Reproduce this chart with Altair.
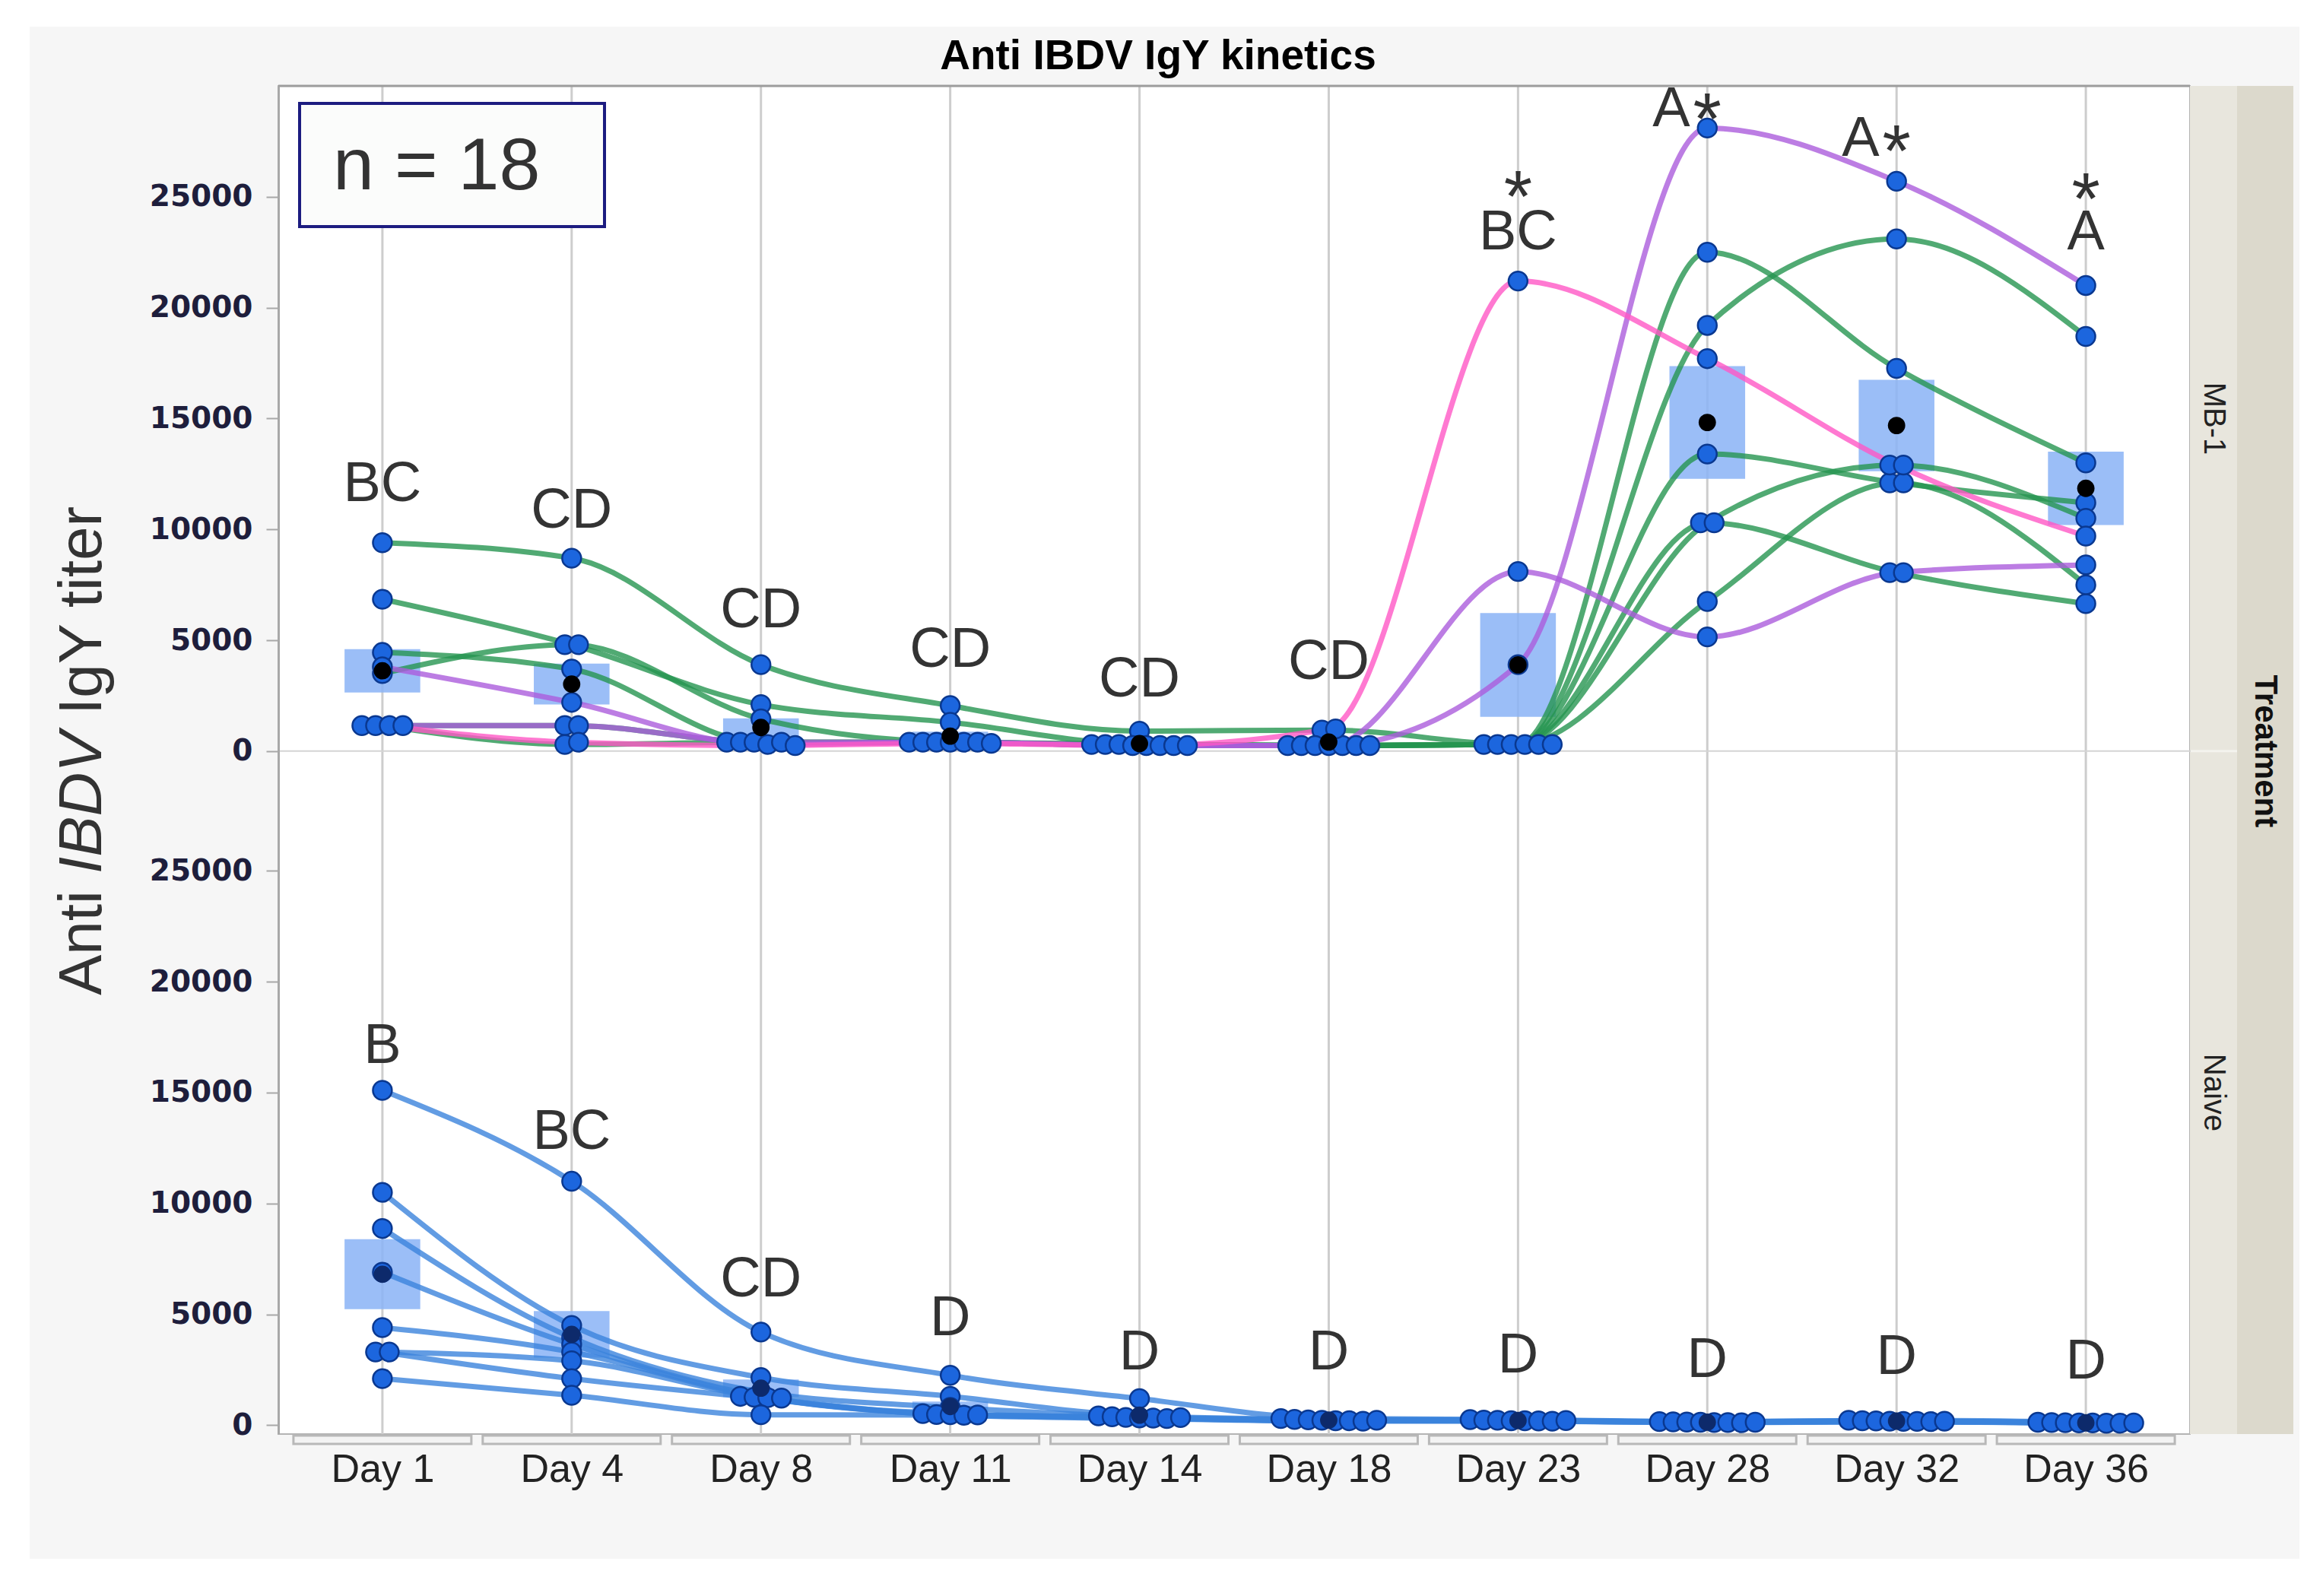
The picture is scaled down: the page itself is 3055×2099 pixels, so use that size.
import json
import altair as alt
import pandas as pd

# ---------------- data ----------------
days = ["Day 1", "Day 4", "Day 8", "Day 11", "Day 14", "Day 18", "Day 23", "Day 28", "Day 32", "Day 36"]
panels = ["MB-1", "Naive"]

# MB-1 birds (individual curves)
mb1_G1 = [9400, 8700, 3900, 2050, 900, 950, 300, 22500, 17260, 13000]
mb1_G2 = [6850, 4800, 2100, 1300, 300, 250, 300, 19200, 23100, 18700]
mb1_G3 = [3500, 4800, 1450, 400, 300, 250, 300, 13400, 12100, 11200]
mb1_G4 = [4450, 3700, 400, 400, 300, 250, 300, 10300, 12900, 10500]
mb1_G5 = [1150, 1150, 400, 400, 250, 250, 300, 10300, 8050, 6650]
mb1_G6 = [1150, 300, 400, 400, 250, 250, 300, 6750, 12100, 7500]
mb1_P1 = [3800, 2200, 300, 400, 250, 250, 3900, 28100, 25700, 21000]
mb1_P2 = [1150, 1150, 400, 400, 250, 250, 8100, 5150, 8050, 8400]
mb1_PK = [1150, 400, 250, 350, 250, 1000, 21200, 17700, 12900, 9700]
mb1_series = [mb1_G1, mb1_G2, mb1_G3, mb1_G4, mb1_G5, mb1_G6, mb1_P1, mb1_P2, mb1_PK]
mb1_kinds = ["green"] * 6 + ["purple", "purple", "pink"]

# Naive birds
nv_N1 = [15100, 11000, 4200, 2250, 1200, 300, 250, 160, 220, 130]
nv_N2 = [10500, 4500, 2150, 1300, 420, 260, 230, 150, 200, 120]
nv_N3 = [8870, 3950, 1500, 800, 380, 240, 220, 140, 190, 110]
nv_N4 = [6900, 3650, 1300, 520, 350, 220, 200, 130, 180, 100]
nv_N5 = [4400, 3300, 1260, 480, 330, 200, 200, 120, 170, 100]
nv_N6 = [3300, 2900, 1240, 470, 320, 200, 190, 120, 170, 90]
nv_N7 = [3300, 2100, 1220, 450, 300, 180, 180, 110, 160, 90]
nv_N8 = [2100, 1350, 470, 460, 340, 220, 210, 130, 180, 100]
nv_series = [nv_N1, nv_N2, nv_N3, nv_N4, nv_N5, nv_N6, nv_N7, nv_N8]

# significance letters (y in titer units of each panel)
top_letters = ["BC", "CD", "CD", "CD", "CD", "CD", "BC", "A", "A", "A"]
top_letter_y = [12037, 10837, 6344, 4561, 3224, 4012, 23388, 28944, 27606, 23388]
top_star_beside = [False, False, False, False, False, False, False, True, True, False]
star_days = ["Day 23", "Day 28", "Day 32", "Day 36"]
star_y = [23900, 27400, 25960, 23800]
bot_letters = ["B", "BC", "CD", "D", "D", "D", "D", "D", "D", "D"]
bot_letter_y = [17078, 13203, 6550, 4801, 3258, 3258, 3121, 2915, 3052, 2846]

y_ticks = [0, 5000, 10000, 15000, 20000, 25000]
title_text = "Anti IBDV IgY kinetics"
ytitle_parts = ["Anti", "IBDV", "IgY titer"]
n_text = "n = 18"
strip_title = "Treatment"

# ---------------- layout constants ----------------
W, H = 2514, 1773
OFF = 30400               # vertical offset of the MB-1 panel on the shared axis
YMIN, YMAX = -400, 60400
HT = H * (YMAX - OFF) / (YMAX - YMIN)   # height of the top panel in px
STEP = W / 10.1
XS = alt.Scale(domain=[-0.55, 9.55], nice=False, zero=False)
YS = alt.Scale(domain=[YMIN, YMAX], nice=False, zero=False)

AX_X = alt.Axis(values=list(range(len(days))),
                labelExpr=json.dumps(days).replace('"', "'") + "[datum.value]",
                title=None, grid=False, domain=False, ticks=False,
                labelFont="Liberation Sans", labelFontSize=52, labelColor="#222222",
                labelPadding=21, labelFlush=False, labelOverlap=False, zindex=1)
AX_Y = alt.Axis(values=y_ticks + [t + OFF for t in y_ticks],
                labelExpr=f"datum.value > 29000 ? format(datum.value - {OFF}, 'd') : format(datum.value, 'd')",
                title=None, grid=False, domainColor="#a8a8a8", domainWidth=3,
                tickColor="#a8a8a8", tickWidth=2, tickSize=16,
                labelFont="DejaVu Sans", labelFontWeight="bold", labelFontSize=39,
                labelColor="#1e1e3c", labelPadding=18, labelOverlap=False, zindex=1)


def jitter(vals, thresh=150, sp=18):
    order = sorted(range(len(vals)), key=lambda i: vals[i])
    clusters, cur = [], [order[0]]
    for a, b in zip(order, order[1:]):
        if vals[b] - vals[a] <= thresh:
            cur.append(b)
        else:
            clusters.append(cur)
            cur = [b]
    clusters.append(cur)
    off = [0.0] * len(vals)
    for c in clusters:
        k = len(c)
        for r, i in enumerate(sorted(c)):
            off[i] = (r - (k - 1) / 2) * sp
    return off


rows = []
for panel, series, kinds in [("MB-1", mb1_series, mb1_kinds), ("Naive", nv_series, ["blue"] * len(nv_series))]:
    poff = OFF if panel == "MB-1" else 0
    for d in range(len(days)):
        vals = [s[d] for s in series]
        jo = jitter(vals)
        for b, s in enumerate(series):
            rows.append(dict(panel=panel, bird=f"{panel}-{b}", kind=kinds[b], idx=d,
                             v=s[d], off=poff, yy=s[d] + poff, xj=d + jo[b] / STEP))
df = pd.DataFrame(rows)

ann = pd.DataFrame(
    [dict(idx=i, txt=t, yy=y + OFF, beside=bs) for i, (t, y, bs) in enumerate(zip(top_letters, top_letter_y, top_star_beside))]
    + [dict(idx=i, txt=t, yy=y, beside=False) for i, (t, y) in enumerate(zip(bot_letters, bot_letter_y))])
stars = pd.DataFrame([dict(idx=days.index(dname), yy=y + OFF) for dname, y in zip(star_days, star_y)])
grid = pd.DataFrame({"idx": list(range(len(days)))})
ONE = pd.DataFrame({"k": [0]})

X = lambda f: alt.X(f, scale=XS, axis=AX_X)
Y = lambda f: alt.Y(f, scale=YS, axis=AX_Y)

layers = []
# outer grey background and white plot area
layers.append(alt.Chart(ONE).mark_rect(color="#f6f6f6").encode(
    x=alt.value(-327), x2=alt.value(2658), y=alt.value(-78), y2=alt.value(1937)))
layers.append(alt.Chart(ONE).mark_rect(fill="white", stroke="#b4b4b4", strokeWidth=2).encode(
    x=alt.value(0), x2=alt.value(W), y=alt.value(0), y2=alt.value(H)))
# facet strips
layers.append(alt.Chart(ONE).mark_rect(color="#e8e6dd").encode(
    x=alt.value(W), x2=alt.value(W + 62), y=alt.value(0), y2=alt.value(H)))
layers.append(alt.Chart(ONE).mark_rect(color="#dcd9cc").encode(
    x=alt.value(W + 62), x2=alt.value(W + 136), y=alt.value(0), y2=alt.value(H)))
# gridlines
layers.append(alt.Chart(grid).mark_rule(color="#cdcdcd", strokeWidth=3).encode(
    x=X("idx:Q"), y=alt.value(0), y2=alt.value(H)))
# frame lines
layers.append(alt.Chart(ONE).mark_rule(color="#9c9c9c", strokeWidth=3).encode(
    x=alt.value(0), x2=alt.value(W), y=alt.value(0)))
layers.append(alt.Chart(ONE).mark_rule(color="#d4d4d4", strokeWidth=2).encode(
    x=alt.value(0), x2=alt.value(W + 62), y=alt.value(HT)))
layers.append(alt.Chart(ONE).mark_rule(color="#f4f3ee", strokeWidth=3).encode(
    x=alt.value(W + 1), x2=alt.value(W + 62), y=alt.value(HT)))

# mean +/- SE boxes
agg = (alt.Chart(df)
       .transform_aggregate(m="mean(v)", se="stderr(v)", groupby=["panel", "idx", "off"])
       .transform_calculate(lo="datum.m - datum.se + datum.off", hi="datum.m + datum.se + datum.off",
                            my="datum.m + datum.off", xa="datum.idx - 0.2", xb="datum.idx + 0.2"))
layers.append(agg.mark_rect(color="#8ab3f6", opacity=0.85).encode(
    x=X("xa:Q"), x2="xb:Q", y=Y("lo:Q"), y2="hi:Q"))

# individual curves
line_style = dict(interpolate="monotone", strokeWidth=7, opacity=0.8)
for kind, col in [("blue", "#3b83dc"), ("green", "#259550"), ("purple", "#ab5cdc"), ("pink", "#ff58c6")]:
    layers.append(alt.Chart(df).transform_filter(alt.datum.kind == kind).mark_line(color=col, **line_style).encode(
        x=X("idx:Q"), y=Y("yy:Q"), detail="bird:N", order="idx:Q"))

# points
layers.append(alt.Chart(df).mark_circle(size=620, fill="#1c66de", stroke="#0a3890", strokeWidth=2.5, opacity=1).encode(
    x=X("xj:Q"), y=Y("yy:Q")))
# means
layers.append(agg.mark_circle(size=520, opacity=1).encode(
    x=X("idx:Q"), y=Y("my:Q"),
    color=alt.Color("panel:N", scale=alt.Scale(domain=panels, range=["#000000", "#0d2a6b"]), legend=None)))

# letters
layers.append(alt.Chart(ann).transform_calculate(lx="datum.beside ? datum.idx - 0.19 : datum.idx")
              .mark_text(font="Liberation Sans", fontSize=74, color="#333333", baseline="middle", align="center")
              .encode(x=X("lx:Q"), y=Y("yy:Q"), text="txt:N"))
layers.append(alt.Chart(stars).mark_text(text="*", font="Liberation Sans", fontSize=96, color="#333333",
                                          baseline="alphabetic", align="center")
              .encode(x=X("idx:Q"), y=Y("yy:Q")))

# n = 18 box
layers.append(alt.Chart(ONE).mark_rect(fill="#fbfcfb", stroke="#1c1c80", strokeWidth=4).encode(
    x=alt.value(28), x2=alt.value(429), y=alt.value(23), y2=alt.value(185)))
layers.append(alt.Chart(ONE).mark_text(text=n_text, font="Liberation Sans", fontSize=97, color="#333333",
                                        align="left", baseline="middle").encode(x=alt.value(72), y=alt.value(107)))

# title
layers.append(alt.Chart(ONE).mark_text(text=title_text, font="Liberation Sans", fontWeight="bold", fontSize=55,
                                        color="#000000", align="center", baseline="middle").encode(
    x=alt.value(1157), y=alt.value(-39)))

# y title with italic IBDV
for txt, ypos, style in [(ytitle_parts[0], 1196, "normal"), (ytitle_parts[1], 1036, "italic"), (ytitle_parts[2], 827, "normal")]:
    layers.append(alt.Chart(ONE).mark_text(text=txt, font="Liberation Sans", fontSize=80, fontStyle=style,
                                            color="#333333", angle=270, align="left", baseline="middle").encode(
        x=alt.value(-257), y=alt.value(ypos)))

# strip labels
layers.append(alt.Chart(ONE).mark_text(text=panels[0], font="Liberation Sans", fontSize=40, color="#222222",
                                        angle=90, align="center", baseline="middle").encode(
    x=alt.value(W + 31), y=alt.value(HT / 2)))
layers.append(alt.Chart(ONE).mark_text(text=panels[1], font="Liberation Sans", fontSize=40, color="#222222",
                                        angle=90, align="center", baseline="middle").encode(
    x=alt.value(W + 31), y=alt.value(HT + (H - HT) / 2)))
layers.append(alt.Chart(ONE).mark_text(text=strip_title, font="Liberation Sans", fontWeight="bold", fontSize=42,
                                        color="#111111", angle=90, align="center", baseline="middle").encode(
    x=alt.value(W + 99), y=alt.value(HT)))

# JMP-style bracket under each category
layers.append(alt.Chart(grid).transform_calculate(xa="datum.idx - 0.47", xb="datum.idx + 0.47")
              .mark_rect(fill="#f3f3f3", stroke="#b8b8b8", strokeWidth=3).encode(
    x=X("xa:Q"), x2="xb:Q", y=alt.value(H + 2), y2=alt.value(H + 13)))

chart = alt.layer(*layers).properties(
    width=W, height=H,
    padding={"left": 31, "top": 27, "right": 0, "bottom": 0},
).configure(background="white").configure_view(strokeWidth=0)

chart.save("out.html", embed_options={"renderer": "svg", "actions": False})
